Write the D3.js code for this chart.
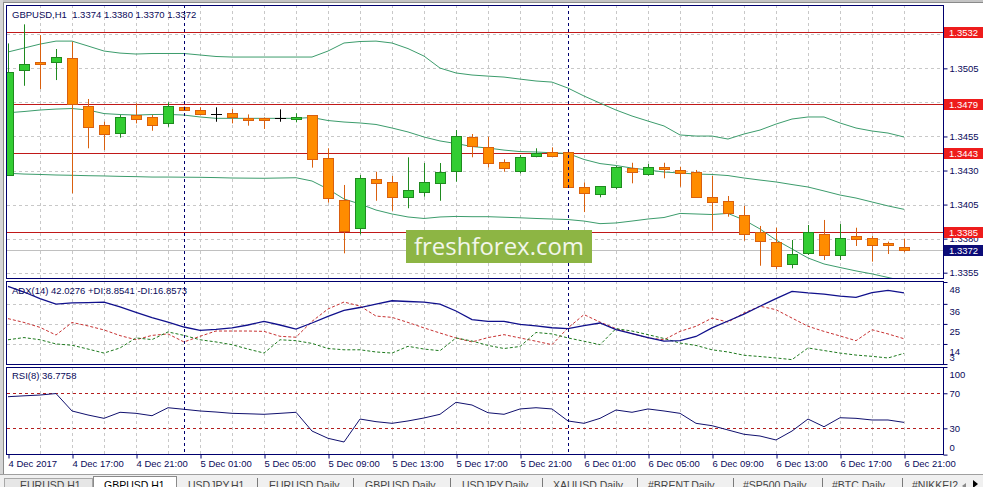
<!DOCTYPE html>
<html><head><meta charset="utf-8">
<script src="https://cdn.jsdelivr.net/npm/d3@7"></script>
<style>
body{margin:0;background:#fff;overflow:hidden;}
svg{display:block;}
text{font-family:"Liberation Sans",Arial,sans-serif;}
</style>
</head><body>
<svg id="c" width="983" height="487"></svg>
<script>
// ---------- DATA ----------
const symbol = "GBPUSD,H1";
const open  = [1.34267,1.35035,1.35094,1.35094,1.35123,1.34773,1.34634,1.34573,1.34707,1.3469,1.34646,1.34766,1.34742,1.34712,1.3472,1.34683,1.34683,1.34683,1.34676,1.34705,1.34394,1.34081,1.33876,1.34235,1.34213,1.34103,1.34144,1.34206,1.34294,1.34548,1.3447,1.3436,1.34299,1.34406,1.34434,1.34434,1.34177,1.34125,1.34177,1.34316,1.34272,1.34323,1.34304,1.34291,1.34103,1.34074,1.33971,1.33847,1.33773,1.33612,1.33692,1.33832,1.3368,1.33819,1.33805,1.33766,1.3374];
const high  = [1.35233,1.35373,1.35294,1.35192,1.35245,1.34825,1.34658,1.34707,1.34793,1.34707,1.3480,1.3477,1.34764,1.34764,1.34751,1.34712,1.3469,1.34749,1.3472,1.34705,1.34463,1.34194,1.34267,1.34291,1.3426,1.34397,1.34355,1.34355,1.34597,1.34568,1.34548,1.34382,1.34414,1.34463,1.3447,1.34434,1.34213,1.34186,1.34333,1.34357,1.34348,1.34357,1.34328,1.34304,1.3426,1.34113,1.3404,1.33893,1.3388,1.3379,1.339,1.33937,1.33907,1.3388,1.33819,1.33778,1.3380];
const low   = [1.34267,1.34922,1.34898,1.34964,1.34133,1.34463,1.3445,1.34541,1.34646,1.34592,1.34621,1.34744,1.34707,1.34658,1.34646,1.34629,1.34605,1.34658,1.34654,1.34321,1.34064,1.33692,1.33832,1.34078,1.34005,1.34023,1.34108,1.34078,1.34218,1.34397,1.34323,1.34291,1.34279,1.34397,1.34406,1.34181,1.33995,1.34103,1.34162,1.34206,1.34262,1.34243,1.34181,1.34103,1.33858,1.33961,1.33785,1.33601,1.33577,1.33582,1.3368,1.33643,1.33643,1.33746,1.33631,1.33687,1.3370];
const close = [1.35021,1.35079,1.35079,1.35131,1.34786,1.34621,1.34566,1.34693,1.3468,1.34632,1.34773,1.34746,1.34717,1.34712,1.3469,1.34673,1.34673,1.34683,1.3469,1.34382,1.34096,1.33858,1.34243,1.34206,1.34108,1.3416,1.34213,1.34287,1.34551,1.34482,1.34353,1.34316,1.34397,1.34431,1.34406,1.34181,1.34133,1.34186,1.34323,1.34287,1.34328,1.34311,1.34284,1.34108,1.34067,1.33986,1.33832,1.33785,1.33601,1.33687,1.33847,1.33682,1.33802,1.33795,1.33751,1.33751,1.3372];

const bbUpper  = [1.3517,1.35199,1.35228,1.3525,1.3525,1.35214,1.35177,1.35162,1.35155,1.35159,1.35159,1.35159,1.35148,1.35137,1.35133,1.35133,1.35133,1.35133,1.35133,1.35133,1.35177,1.35236,1.35247,1.3525,1.35236,1.35195,1.3514,1.35052,1.35016,1.35001,1.34993,1.34986,1.34971,1.34957,1.34949,1.34905,1.34847,1.34795,1.34744,1.347,1.34663,1.34627,1.34561,1.34553,1.34553,1.34531,1.34568,1.34597,1.34641,1.34678,1.34693,1.34693,1.34649,1.34612,1.3459,1.34575,1.34546];
const bbMiddle = [1.34724,1.34733,1.34744,1.34751,1.34755,1.34744,1.34718,1.34711,1.34707,1.34711,1.34712,1.34707,1.34693,1.34683,1.34683,1.34683,1.34683,1.34683,1.34683,1.34689,1.34667,1.34656,1.34649,1.34638,1.34612,1.34583,1.34546,1.34517,1.34498,1.34476,1.34465,1.3445,1.34439,1.34436,1.3443,1.34425,1.34381,1.34351,1.34337,1.34318,1.34304,1.34289,1.34282,1.34274,1.34271,1.34263,1.34245,1.3423,1.34216,1.34197,1.34179,1.3415,1.3412,1.34098,1.34069,1.3404,1.34015];
const bbLower  = [1.3428,1.34274,1.34271,1.34267,1.34265,1.34262,1.3426,1.34257,1.34255,1.34252,1.34252,1.34251,1.3425,1.34248,1.34245,1.34244,1.34243,1.34245,1.34247,1.34223,1.34164,1.34091,1.34054,1.3401,1.33981,1.33959,1.33948,1.33959,1.33963,1.33961,1.33961,1.33957,1.33953,1.33948,1.33944,1.3394,1.33929,1.3391,1.33915,1.33929,1.33944,1.33955,1.33985,1.33981,1.33977,1.33985,1.33937,1.33871,1.3379,1.33724,1.33658,1.33614,1.33588,1.33563,1.33541,1.33515,1.33489];

const adx     = [45.6,42.5,38.9,35.9,36.5,36.7,37.0,34.3,31.3,28.5,26.0,23.3,21.5,22.0,22.8,24.4,26.4,24.4,22.2,25.5,29.1,32.4,34.0,35.9,37.7,37.3,37.0,35.9,32.1,27.4,26.4,26.4,24.7,23.9,22.9,22.4,24.1,25.5,21.9,19.7,17.5,15.5,15.8,18.1,22.8,26.6,30.4,34.7,38.9,42.9,42.0,41.4,40.3,39.6,42.2,43.4,42.0276];
const plusDI  = [16.3,17.5,16.3,14.0,13.3,11.2,9.0,11.8,17.3,16.4,20.6,18.7,16.3,15.1,13.6,11.2,9.0,16.3,15.8,14.3,11.5,10.8,10.8,9.6,9.0,12.7,11.2,10.3,17.3,15.6,13.2,11.5,12.6,20.3,19.5,17.3,15.5,13.6,22.4,21.1,19.1,17.0,14.5,13.2,10.8,9.6,7.8,7.1,6.3,5.4,11.8,10.4,9.0,7.9,7.2,6.3,8.8541];
const minusDI = [27.9,25.8,23.1,18.9,25.8,23.9,21.7,18.6,16.3,18.7,19.5,15.1,18.2,21.1,21.1,21.1,20.9,18.2,17.7,26.4,33.2,37.0,34.8,29.3,28.6,25.8,22.8,20.0,17.3,15.1,17.5,19.1,17.3,15.5,13.6,22.8,30.1,26.0,22.4,19.7,17.3,16.3,20.9,23.7,28.2,26.0,31.0,34.7,32.8,28.2,23.7,20.9,18.4,15.8,21.8,19.5,16.8573];

const rsi = [66.1,67.1,68.0,69.7,49.8,45.2,41.4,48.3,47.1,44.4,53.5,51.7,49.8,48.6,47.1,46.6,46.0,47.1,48.3,26.9,18.6,14.4,40.6,37.6,35.7,38.4,41.8,46.0,59.7,56.6,47.8,46.0,52.1,53.5,52.1,38.4,35.7,41.4,50.9,48.3,52.1,49.8,47.1,35.7,33.0,28.1,23.2,21.2,16.7,26.9,40.6,31.8,42.1,41.4,39.5,39.5,36.7758];

const timeLabels    = ["4 Dec 2017","4 Dec 17:00","4 Dec 21:00","5 Dec 01:00","5 Dec 05:00","5 Dec 09:00","5 Dec 13:00","5 Dec 17:00","5 Dec 21:00","6 Dec 01:00","6 Dec 05:00","6 Dec 09:00","6 Dec 13:00","6 Dec 17:00","6 Dec 21:00"];
const timeLabelBars = [0,4,8,12,16,20,24,28,32,36,40,44,48,52,56];
const daySeparatorBars = [11,35];
const priceTicks = [1.3530,1.3505,1.3480,1.3455,1.3430,1.3405,1.3380,1.3355];
const levelLines = [1.3532,1.3479,1.3443,1.3385];
const bidPrice = 1.3372;
const adxTicks = [48,36,25,14,3];
const rsiTicks = [100,70,30,0];
const rsiLevels = [70,30];
const tabs = ["EURUSD,H1","GBPUSD,H1","USDJPY,H1","EURUSD,Daily","GBPUSD,Daily","USDJPY,Daily","XAUUSD,Daily","#BRENT,Daily","#SP500,Daily","#BTC,Daily","#NIKKEI225,Daily"];

// ---------- LAYOUT ----------
const svg = d3.select("#c");
const L = 7, R = 943;
const P = {
  main: {top:5, bottom:278},
  adx:  {top:282, bottom:364},
  rsi:  {top:367, bottom:454.6}
};
const NAVY = "#00006e", TXT = "#0a0a5a";
const n = open.length;
const x = d3.scaleLinear().domain([0, n-1]).range([8, 904]);
const yMain = d3.scaleLinear().domain([1.33511, 1.35515]).range([P.main.bottom, P.main.top]);
const yAdx  = d3.scaleLinear().domain([3, 48]).range([P.adx.bottom, P.adx.top]);
const yRsi  = d3.scaleLinear().domain([0, 100]).range([P.rsi.bottom, P.rsi.top]);
const f4 = d3.format(".4f");

// chrome
svg.append("rect").attr("x",0).attr("y",0).attr("width",983).attr("height",474).attr("fill","#fff");
svg.append("rect").attr("x",0).attr("y",0).attr("width",983).attr("height",3).attr("fill","#c4c4c4");
svg.append("line").attr("x1",0).attr("x2",983).attr("y1",2.5).attr("y2",2.5).attr("stroke","#8a8a8a");
svg.append("rect").attr("x",0).attr("y",0).attr("width",3).attr("height",476).attr("fill","#d6d6d6");
svg.append("line").attr("x1",3.5).attr("x2",3.5).attr("y1",2).attr("y2",476).attr("stroke","#8a8a8a");

// clip paths
const defs = svg.append("defs");
function clip(id, p){ defs.append("clipPath").attr("id",id).append("rect")
  .attr("x",L).attr("y",p.top).attr("width",R-L).attr("height",p.bottom-p.top); }
clip("cMain",{top:5,bottom:278}); clip("cAdx",{top:281,bottom:364}); clip("cRsi",{top:367,bottom:454});

// vertical grid (every 2 bars)
const gridBars = d3.range(2, n, 2);
const grid = svg.append("g").attr("stroke","#c8c8c8").attr("stroke-dasharray","3,3").attr("stroke-width",1);
[[5,278],[281,364],[367,454]].forEach(([a,b])=>{
  grid.selectAll(null).data(gridBars).join("line")
    .attr("x1",d=>Math.round(x(d))+0.5).attr("x2",d=>Math.round(x(d))+0.5)
    .attr("y1",a).attr("y2",b);
});
// horizontal grid main
grid.selectAll(null).data(priceTicks).join("line")
  .attr("x1",L).attr("x2",R).attr("y1",d=>Math.round(yMain(d))+0.5).attr("y2",d=>Math.round(yMain(d))+0.5);
// horizontal grid adx
grid.selectAll(null).data(adxTicks.filter(d=>d<48&&d>3)).join("line")
  .attr("x1",L).attr("x2",R).attr("y1",d=>Math.round(yAdx(d))+0.5).attr("y2",d=>Math.round(yAdx(d))+0.5);

// ---------- MAIN PANEL ----------
const gm = svg.append("g").attr("clip-path","url(#cMain)");
// bid line
gm.append("line").attr("x1",L).attr("x2",R)
  .attr("y1",Math.round(yMain(bidPrice))+0.5).attr("y2",Math.round(yMain(bidPrice))+0.5)
  .attr("stroke","#c0c0c0");
// level lines
gm.selectAll(null).data(levelLines).join("line")
  .attr("x1",L).attr("x2",R).attr("y1",d=>Math.round(yMain(d))+0.5).attr("y2",d=>Math.round(yMain(d))+0.5)
  .attr("stroke","#c01818").attr("stroke-width",1.2);
// bands
const bandLine = d3.line().x((d,i)=>x(i)).y(d=>yMain(d));
[bbUpper,bbMiddle,bbLower].forEach(arr=>{
  gm.append("path").datum(arr).attr("d",bandLine).attr("fill","none").attr("stroke","#3c9c6c").attr("stroke-width",1);
});
// candles
const idx = d3.range(n);
const cg = gm.append("g");
idx.forEach(i=>{
  const cx = Math.round(x(i));
  const o=open[i], c=close[i];
  const doji = o===c, bull = c>o;
  const col = doji ? "#000" : (bull ? "#1f8a1f" : "#d9600e");
  const fill = bull ? "#32cd32" : "#ff8c00";
  cg.append("line").attr("x1",cx+0.5).attr("x2",cx+0.5)
    .attr("y1",yMain(high[i])).attr("y2",yMain(low[i])).attr("stroke",col);
  if (doji){
    const yy = Math.round(yMain(o))+0.5;
    cg.append("line").attr("x1",cx-5).attr("x2",cx+6).attr("y1",yy).attr("y2",yy).attr("stroke","#000");
  } else {
    const yt = Math.round(yMain(Math.max(o,c)))+0.5, yb = Math.round(yMain(Math.min(o,c)))+0.5;
    cg.append("rect").attr("x",cx-4.5).attr("y",yt).attr("width",10).attr("height",Math.max(1,yb-yt))
      .attr("fill",fill).attr("stroke",col);
  }
});

// ---------- ADX PANEL ----------
const ga = svg.append("g").attr("clip-path","url(#cAdx)");
const adxLine = d3.line().x((d,i)=>x(i)).y(d=>yAdx(d));
ga.append("path").datum(minusDI).attr("d",adxLine).attr("fill","none").attr("stroke","#c83232").attr("stroke-dasharray","3,2");
ga.append("path").datum(plusDI).attr("d",adxLine).attr("fill","none").attr("stroke","#1e7a1e").attr("stroke-dasharray","3,2");
ga.append("path").datum(adx).attr("d",adxLine).attr("fill","none").attr("stroke","#10108c").attr("stroke-width",1.3);

// ---------- RSI PANEL ----------
const gr = svg.append("g").attr("clip-path","url(#cRsi)");
gr.selectAll(null).data(rsiLevels).join("line")
  .attr("x1",L).attr("x2",R).attr("y1",d=>Math.round(yRsi(d))+0.5).attr("y2",d=>Math.round(yRsi(d))+0.5)
  .attr("stroke","#b41e1e").attr("stroke-dasharray","3,3");
gr.append("path").datum(rsi).attr("d",d3.line().x((d,i)=>x(i)).y(d=>yRsi(d)))
  .attr("fill","none").attr("stroke","#10106e").attr("stroke-width",1);

// day separators
svg.append("g").selectAll(null).data(daySeparatorBars).join("line")
  .attr("x1",d=>Math.round(x(d))+0.5).attr("x2",d=>Math.round(x(d))+0.5)
  .attr("y1",5).attr("y2",454).attr("stroke",NAVY).attr("stroke-dasharray","3,3");

// watermark
const wm = svg.append("g");
wm.append("rect").attr("x",406).attr("y",230).attr("width",186).attr("height",33).attr("fill","#8db544");
wm.append("text").attr("x",499).attr("y",255).attr("text-anchor","middle")
  .style("font-family","'Open Sans',sans-serif").style("font-size","24px")
  .attr("fill","#f2f6ea").attr("textLength",170).attr("lengthAdjust","spacingAndGlyphs").text("freshforex.com");

// panel frames
[[6.5,5.5,278.5],[6.5,281.5,364.5],[6.5,367.5,454.5]].forEach(([lx,t,b])=>{
  svg.append("rect").attr("x",lx).attr("y",t).attr("width",R+0.5-lx).attr("height",b-t)
    .attr("fill","none").attr("stroke",NAVY);
});

// ---------- AXES ----------
function styleAxis(g){
  g.select(".domain").remove();
  g.selectAll(".tick line").attr("stroke",NAVY);
  g.selectAll(".tick text").attr("fill",TXT).style("font-size","9.5px").style("font-family","'Liberation Sans',Arial,sans-serif");
}
const axMain = svg.append("g").attr("transform",`translate(${R+0.5},0)`)
  .call(d3.axisRight(yMain).tickValues(priceTicks).tickFormat(f4).tickSize(4).tickPadding(2));
styleAxis(axMain);

function clampLabels(g, scale, p, offset){
  g.selectAll(".tick text").attr("dy",null).attr("dominant-baseline",null)
    .attr("y", d=>{
      const v = Math.max(p.top+7, Math.min(p.bottom-7, scale(d)+offset));
      return v - scale(d) + 3.4;
    });
}
const axAdx = svg.append("g").attr("transform",`translate(${R+0.5},0)`)
  .call(d3.axisRight(yAdx).tickValues(adxTicks).tickSize(4).tickPadding(2));
styleAxis(axAdx); clampLabels(axAdx, yAdx, P.adx, 7);

const axRsi = svg.append("g").attr("transform",`translate(${R+0.5},0)`)
  .call(d3.axisRight(yRsi).tickValues(rsiTicks).tickSize(4).tickPadding(2));
styleAxis(axRsi); clampLabels(axRsi, yRsi, {top:367,bottom:454}, 0);

// price label boxes
function priceBox(v, fillc){
  const yy = Math.round(yMain(v));
  const g = svg.append("g");
  g.append("rect").attr("x",944).attr("y",yy-5).attr("width",39).attr("height",11).attr("fill",fillc);
  g.append("text").attr("x",949).attr("y",yy+3.8).attr("fill","#fff")
    .style("font-size","9.5px").text(f4(v));
}
levelLines.forEach(v=>priceBox(v,"#ee1c1c"));
priceBox(bidPrice,"#0c0c78");

// time axis
const axT = svg.append("g").attr("transform","translate(0,454.5)")
  .call(d3.axisBottom(x).tickValues(timeLabelBars).tickFormat((d,i)=>timeLabels[i]).tickSize(4));
axT.select(".domain").remove();
axT.selectAll(".tick line").attr("stroke",NAVY).attr("transform","translate(0.5,0)");
axT.selectAll(".tick text").attr("text-anchor","start").attr("x",0).attr("y",12.5).attr("dy",null)
  .attr("fill",TXT).style("font-size","9.5px").style("font-family","'Liberation Sans',Arial,sans-serif");

// headers
const hdr = (y, s)=> svg.append("text").attr("x",12).attr("y",y).attr("fill",TXT)
  .style("font-size","9.5px").style("white-space","pre").text(s);
const last = n-1;
hdr(17.5, `${symbol}  ${f4(open[last])} ${f4(high[last])} ${f4(low[last])} ${f4(close[last])}`);
hdr(293.5, `ADX(14) ${f4(adx[last])} +DI:${f4(plusDI[last])} -DI:${f4(minusDI[last])}`);
hdr(379, `RSI(8) ${f4(rsi[last])}`);

// ---------- TABS ----------
svg.append("rect").attr("x",0).attr("y",474).attr("width",983).attr("height",13).attr("fill","#f0f0f0");
svg.append("line").attr("x1",0).attr("x2",983).attr("y1",474.5).attr("y2",474.5).attr("stroke","#a0a0a0");
svg.append("rect").attr("x",4.5).attr("y",478.5).attr("width",88).attr("height",12).attr("fill","#e6e6e6").attr("stroke","#a8a8a8");
svg.append("rect").attr("x",93.5).attr("y",476.5).attr("width",83).attr("height",14).attr("fill","#fff").attr("stroke","#8a8a8a");
const tabX = [20,104,188,269,365,462,553,648,743,832,912];
const sepX = [257,353,450,542,637,733,822,902];
const tg = svg.append("g");
tg.append("clipPath").attr("id","cTabs").append("rect").attr("x",0).attr("y",474).attr("width",958).attr("height",13);
const tt = tg.append("g").attr("clip-path","url(#cTabs)");
tabs.forEach((t,i)=>{
  tt.append("text").attr("x",tabX[i]).attr("y",488.5).attr("fill",i===1?"#000":"#444")
    .style("font-size","10.5px").text(t);
});
sepX.forEach(sx=>{
  tt.append("line").attr("x1",sx+0.5).attr("x2",sx+0.5).attr("y1",478).attr("y2",487).attr("stroke","#7a7a7a");
});
svg.append("path").attr("d","M966,483 L962,486 L966,489 Z").attr("fill","#888");
svg.append("path").attr("d","M973,480 L978,484 L973,488 Z").attr("fill","#000");
</script>
</body></html>
